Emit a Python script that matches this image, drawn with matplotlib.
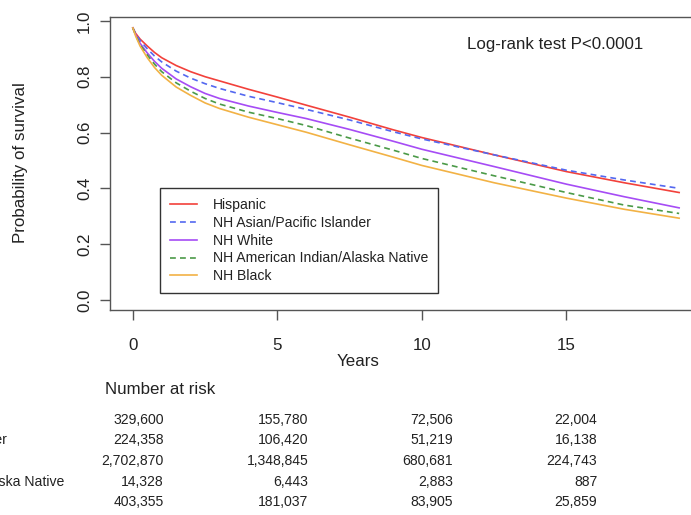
import matplotlib
matplotlib.use('Agg')
import matplotlib.pyplot as plt
from matplotlib.transforms import blended_transform_factory

plt.rcParams['font.family'] = ['Liberation Sans', 'DejaVu Sans']

# survival curves (years -> probability)
years = [0, 0.1, 0.25, 0.5, 0.75, 1, 1.5, 2, 2.5, 3, 4, 5, 6, 7.5, 9, 10, 12.5, 15, 17, 18.9]
hispanic = [0.975, 0.955, 0.935, 0.91, 0.887, 0.868, 0.84, 0.818, 0.80, 0.785, 0.755,
            0.727, 0.698, 0.655, 0.61, 0.582, 0.52, 0.46, 0.42, 0.385]
asian_pi = [0.975, 0.953, 0.93, 0.90, 0.874, 0.853, 0.82, 0.795, 0.775, 0.758, 0.73,
            0.707, 0.683, 0.645, 0.603, 0.577, 0.52, 0.465, 0.43, 0.40]
white = [0.975, 0.95, 0.92, 0.885, 0.855, 0.83, 0.792, 0.764, 0.74, 0.722, 0.695,
         0.672, 0.65, 0.611, 0.569, 0.54, 0.478, 0.415, 0.37, 0.33]
aian = [0.975, 0.948, 0.915, 0.878, 0.845, 0.818, 0.778, 0.748, 0.722, 0.702, 0.673,
        0.65, 0.625, 0.58, 0.537, 0.507, 0.445, 0.385, 0.34, 0.31]
black = [0.975, 0.945, 0.91, 0.868, 0.833, 0.805, 0.763, 0.733, 0.706, 0.686, 0.655,
         0.628, 0.601, 0.556, 0.512, 0.482, 0.42, 0.365, 0.325, 0.293]

groups = ['Hispanic', 'NH Asian/Pacific Islander', 'NH White',
          'NH American Indian/Alaska Native', 'NH Black']
colors = ['#f2413b', '#5468f0', '#a64cf5', '#4b9a48', '#f2b245']
styles = ['-', '--', '-', '--', '-']

# number at risk table
risk_times = [0, 5, 10, 15]
risk = [
    ['329,600', '155,780', '72,506', '22,004'],
    ['224,358', '106,420', '51,219', '16,138'],
    ['2,702,870', '1,348,845', '680,681', '224,743'],
    ['14,328', '6,443', '2,883', '887'],
    ['403,355', '181,037', '83,905', '25,859'],
]

W, H = 691, 515
fig = plt.figure(figsize=(W / 100, H / 100), dpi=100)
ax = fig.add_axes([110 / W, 1 - 310 / H, 594 / W, 293 / H])

for ys, c, ls, lab in zip([hispanic, asian_pi, white, aian, black], colors, styles, groups):
    line, = ax.plot(years, ys, color=c, linestyle=ls, linewidth=1.2, label=lab)
    if ls == '--':
        line.set_dashes((3.5, 2.5))

ax.set_xlim(-0.79, 19.76)
ax.set_ylim(-0.036, 1.014)
ax.set_xticks([0, 5, 10, 15])
ax.set_yticks([0, 0.2, 0.4, 0.6, 0.8, 1.0])
ax.set_yticklabels(['0.0', '0.2', '0.4', '0.6', '0.8', '1.0'], rotation=90, va='center')
ax.tick_params(direction='out', length=7.5, width=1, color='#555555',
               labelsize=12.2, labelcolor='#222222')
ax.tick_params(axis='x', pad=13)
ax.tick_params(axis='y', pad=5.5)
for s in ax.spines.values():
    s.set_color('#555555')
    s.set_linewidth(1)

leg = ax.legend(loc='upper left', bbox_to_anchor=((160 - 110) / 594, (310 - 188) / 293),
                borderaxespad=0, fontsize=10.1, frameon=True, fancybox=False,
                framealpha=1, edgecolor='#333333', borderpad=0.72, labelspacing=0.27,
                handlelength=1.95, handletextpad=1.1)
leg.get_frame().set_linewidth(1)
for t in leg.get_texts():
    t.set_color('#222222')

fig.text(467 / W, 1 - 45 / H, 'Log-rank test P<0.0001', fontsize=12.2,
         ha='left', va='center', color='#222222')
fig.text(21 / W, 1 - 163 / H, 'Probability of survival', fontsize=12.2,
         rotation=90, ha='center', va='center', color='#222222')
fig.text(358 / W, 1 - 361 / H, 'Years', fontsize=12.2, ha='center', va='center',
         color='#222222')
fig.text(105 / W, 1 - 390 / H, 'Number at risk', fontsize=12.2, ha='left',
         va='center', color='#222222')

tr = blended_transform_factory(ax.transData, fig.transFigure)
for i, (lab, row) in enumerate(zip(groups, risk)):
    y = 1 - (420 + 20.5 * i) / H
    fig.text(-151 / W, y, lab, fontsize=10.1, ha='left', va='center', color='#222222')
    for t, v in zip(risk_times, row):
        ax.text(t + 1.07, y, v, transform=tr, fontsize=10.1, ha='right',
                va='center', color='#222222', clip_on=False)

fig.savefig('out.png', dpi=100)
